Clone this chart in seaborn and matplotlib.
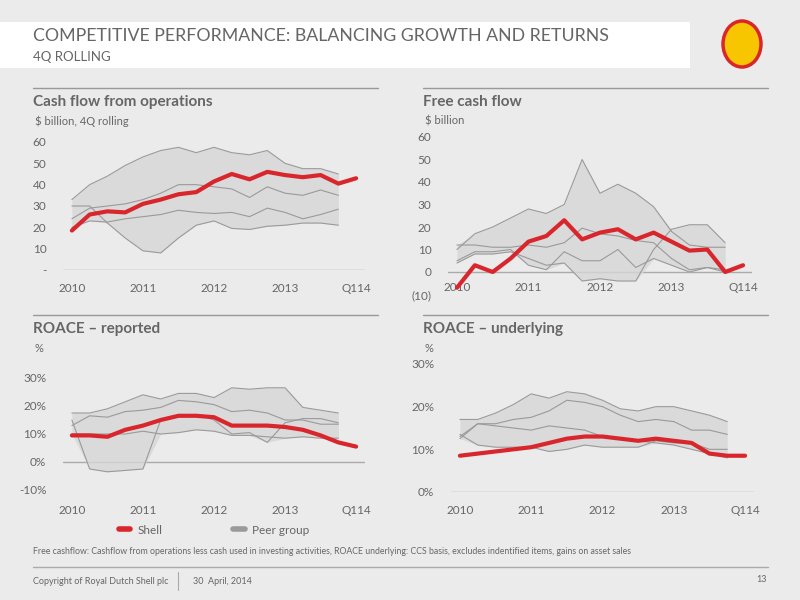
import numpy as np
import pandas as pd
import matplotlib
matplotlib.use("Agg")
import matplotlib.pyplot as plt
from matplotlib.patches import Ellipse, Rectangle
from matplotlib.lines import Line2D
import seaborn as sns

sns.set_theme(style="white")
plt.rcParams['font.family'] = ['Lato', 'DejaVu Sans']

quarters = list(range(17))
tick_pos = [0, 4, 8, 12, 16]
tick_labels = ["2010", "2011", "2012", "2013", "Q114"]

cffo_shell = [18.5, 26, 27.5, 27, 31, 33, 35.5, 36.5, 41.5, 45, 42.5, 46, 44.5, 43.5, 44.5, 40.5, 43]
cffo_peers = [
    [33, 40, 44, 49, 53, 56, 57.5, 55, 57.5, 55, 54, 56, 50, 47.5, 47.5, 45],
    [30, 30, 22, 15, 9, 8, 15, 21, 23, 19.5, 19, 20.5, 21, 22, 22, 21],
    [24, 29, 30, 31, 33, 36, 40, 40, 39, 38, 34, 39, 36, 35, 37.5, 35],
    [20, 23, 22.5, 24, 25, 26, 28, 27, 26.5, 27, 25, 29, 27, 24, 26, 28.5],
]
fcf_shell = [-7, 3, 0, 6, 13.5, 16, 23, 14.5, 17.5, 19, 14.5, 17.5, 13.5, 9.5, 10, 0, 3]
fcf_peers = [
    [10, 17, 20, 24, 28, 26, 30, 50, 35, 39, 35, 29, 18, 12, 11, 11],
    [12, 12, 11, 11, 12, 11, 13, 19.5, 17, 16, 14, 13, 6, 1, 2, 1],
    [5, 9, 9, 10, 3, 1, 9, 5, 5, 10, 2, 6, 3, 0, 2, 0],
    [4, 8, 8, 9, 6, 3, 4, -4, -3, -4, -4, 10, 19, 21, 21, 13],
]
roace_rep_shell = [9.5, 9.5, 9, 11.5, 13, 15, 16.5, 16.5, 16, 13, 13, 13, 12.5, 11.5, 9.5, 7, 5.5]
roace_rep_peers = [
    [17.5, 17.5, 19, 21.5, 24, 22.5, 24.5, 24.5, 23, 26.5, 26, 26.5, 26.5, 19.5, 18.5, 17.5],
    [13, 16.5, 16, 18, 18.5, 19.5, 22, 21.5, 20.5, 18, 18.5, 17.5, 15, 15, 13.5, 13.5],
    [15, -2.5, -3.5, -3, -2.5, 15, 16.5, 17, 15, 10, 10.5, 7, 14, 15.5, 15.5, 14],
    [10, 10, 10, 10, 11, 10, 10.5, 11.5, 11, 9.5, 9.5, 9, 8.5, 9, 8.5, 8.5],
]
roace_und_shell = [8.5, 9, 9.5, 10, 10.5, 11.5, 12.5, 13, 13, 12.5, 12, 12.5, 12, 11.5, 9, 8.5, 8.5]
roace_und_peers = [
    [17, 17, 18.5, 20.5, 23, 22, 23.5, 23, 21.5, 19.5, 19, 20, 20, 19, 18, 16.5],
    [13, 16, 16, 17, 17.5, 19, 21.5, 21, 20, 18, 16.5, 17, 16.5, 14.5, 14.5, 13.5],
    [12.5, 16, 15.5, 15, 14.5, 15.5, 15, 14.5, 13, 12.5, 12, 11.5, 11, 10, 9, 8],
    [13.5, 11, 10.5, 10.5, 10.5, 9.5, 10, 11, 10.5, 10.5, 10.5, 12, 11.5, 11.5, 10, 10],
]

BG = "#ebebeb"
RED = "#d9262c"
GRAY = "#666666"
W, H = 800, 600
fig = plt.figure(figsize=(8, 6), dpi=100, facecolor=BG)

def px_axes(x0, x1, ytop, ybot):
    return fig.add_axes([x0 / W, 1 - ybot / H, (x1 - x0) / W, (ybot - ytop) / H])

def panel(ax, shell, peers, ylim, yticks, ylabels, zero_line):
    ax.set_facecolor("none")
    q = quarters[:len(peers[0])]
    arr = np.array(peers)
    ax.fill_between(q, arr.min(axis=0), arr.max(axis=0), color="#d6d6d6", alpha=0.8, lw=0, zorder=1)
    for i, p in enumerate(peers):
        sns.lineplot(x=q, y=p, ax=ax, color="#9a9a9a", lw=0.8, zorder=2,
                     label="Peer group" if i == 0 else None, legend=False)
    sns.lineplot(x=quarters, y=shell, ax=ax, color=RED, lw=3, zorder=3, label="Shell", legend=False)
    ax.axhline(zero_line, color="#aaaaaa", lw=1, zorder=0)
    ax.set_xlim(-0.5, 16.5)
    ax.set_ylim(*ylim)
    ax.set_yticks(yticks)
    ax.set_yticklabels(ylabels)
    ax.set_xticks(tick_pos)
    ax.set_xticklabels(tick_labels)
    for s in ax.spines.values():
        s.set_visible(False)
    ax.tick_params(axis="both", length=0, colors=GRAY, labelsize=8.5)
    ax.tick_params(axis="y", pad=12)
    ax.set_xlabel("")
    ax.set_ylabel("")

ax1 = px_axes(63, 365, 142, 270)
panel(ax1, cffo_shell, cffo_peers, (0, 60), [0, 10, 20, 30, 40, 50, 60],
      ["-", "10", "20", "30", "40", "50", "60"], 0)
ax1.tick_params(axis="x", pad=9)

ax2 = px_axes(448, 752, 137, 294.5)
panel(ax2, fcf_shell, fcf_peers, (-10, 60), [-10, 0, 10, 20, 30, 40, 50, 60],
      ["(10)", "0", "10", "20", "30", "40", "50", "60"], 0)
ax2.tick_params(axis="x", pad=-9)

ax3 = px_axes(63, 365, 378, 490)
panel(ax3, roace_rep_shell, roace_rep_peers, (-10, 30), [-10, 0, 10, 20, 30],
      ["-10%", "0%", "10%", "20%", "30%"], 0)
ax3.tick_params(axis="x", pad=11)

ax4 = px_axes(451, 754, 364, 492)
panel(ax4, roace_und_shell, roace_und_peers, (0, 30), [0, 10, 20, 30],
      ["0%", "10%", "20%", "30%"], 0)
ax4.tick_params(axis="x", pad=9)

# header
fig.patches.append(Rectangle((0, 1 - 68 / H), 690 / W, 46 / H, transform=fig.transFigure,
                             facecolor="white", edgecolor="none", zorder=0))
fig.text(33 / W, 1 - 36 / H, "COMPETITIVE PERFORMANCE: BALANCING GROWTH AND RETURNS",
         fontsize=12.8, color=GRAY, va="center", ha="left")
fig.text(33 / W, 1 - 57 / H, "4Q ROLLING", fontsize=9.5, color=GRAY, va="center", ha="left")
fig.patches.append(Ellipse((742 / W, 1 - 44 / H), 38 / W, 46 / H, transform=fig.transFigure,
                           facecolor="#f7c600", edgecolor="#d9262c", lw=2.5))

# panel titles
for x0, x1, yline, title, sub in [
    (33, 378, 88, "Cash flow from operations", "$ billion, 4Q rolling"),
    (423, 768, 88, "Free cash flow", "$ billion"),
    (33, 378, 315, "ROACE \u2013 reported", "%"),
    (423, 768, 315, "ROACE \u2013 underlying", "%"),
]:
    fig.add_artist(Line2D([x0 / W, x1 / W], [1 - yline / H] * 2, color="#999999", lw=1))
    fig.text(x0 / W, 1 - (yline + 14) / H, title, fontsize=11, color=GRAY, weight="bold", va="center")
    fig.text(x0 / W + 0.002, 1 - (yline + 33) / H, sub, fontsize=8, color=GRAY, va="center")

# legend
handles = [Line2D([], [], color=RED, lw=4), Line2D([], [], color="#9a9a9a", lw=4)]
fig.legend(handles, ["Shell", "Peer group"], loc="center left", bbox_to_anchor=(108 / W, 1 - 530 / H),
           ncol=2, frameon=False, fontsize=8.5, labelcolor=GRAY, handlelength=1.0,
           columnspacing=6, handletextpad=0.6)

fig.text(33 / W, 1 - 552 / H,
         "Free cashflow: Cashflow from operations less cash used in investing activities, ROACE underlying: CCS basis, excludes indentified items, gains on asset sales",
         fontsize=6.3, color=GRAY, va="center")
fig.add_artist(Line2D([33 / W, 768 / W], [1 - 567 / H] * 2, color="#aaaaaa", lw=1))
fig.add_artist(Line2D([178 / W, 178 / W], [1 - 572 / H, 1 - 590 / H], color="#aaaaaa", lw=0.8))
fig.text(33 / W, 1 - 581 / H, "Copyright of Royal Dutch Shell plc", fontsize=6.5, color=GRAY, va="center")
fig.text(193 / W, 1 - 581 / H, "30  April, 2014", fontsize=6.5, color=GRAY, va="center")
fig.text(767 / W, 1 - 579 / H, "13", fontsize=6.5, color=GRAY, va="center", ha="right")

fig.savefig("out.png", dpi=100, facecolor=BG)
